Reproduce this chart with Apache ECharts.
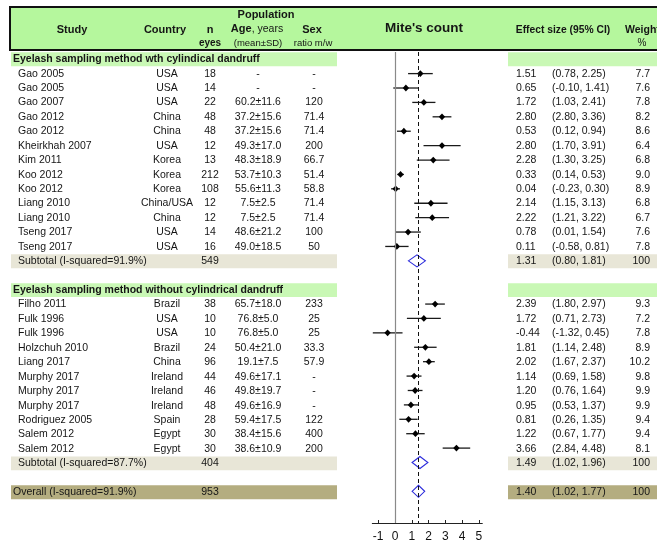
<!DOCTYPE html>
<html><head><meta charset="utf-8">
<script src="https://cdn.jsdelivr.net/npm/echarts@6/dist/echarts.min.js"></script>
<style>html,body{margin:0;padding:0;background:#fff}#c{width:657px;height:543px}</style>
</head><body><div id="c"></div>
<script>
// ---------- data ----------
const sectionTitles = ['Eyelash sampling method wth cylindical dandruff', 'Eyelash sampling method without cylindrical dandruff'];

const g1Studies = ['Gao 2005','Gao 2005','Gao 2007','Gao 2012','Gao 2012','Kheirkhah 2007','Kim 2011','Koo 2012','Koo 2012','Liang 2010','Liang 2010','Tseng 2017','Tseng 2017'];
const g1Countries = ['USA','USA','USA','China','China','USA','Korea','Korea','Korea','China/USA','China','USA','USA'];
const g1N = [18,14,22,48,48,12,13,212,108,12,12,14,16];
const g1Age = ['-','-','60.2±11.6','37.2±15.6','37.2±15.6','49.3±17.0','48.3±18.9','53.7±10.3','55.6±11.3','7.5±2.5','7.5±2.5','48.6±21.2','49.0±18.5'];
const g1Sex = ['-','-','120','71.4','71.4','200','66.7','51.4','58.8','71.4','71.4','100','50'];
const g1ES = [1.51,0.65,1.72,2.80,0.53,2.80,2.28,0.33,0.04,2.14,2.22,0.78,0.11];
const g1Lo = [0.78,-0.10,1.03,2.24,0.12,1.70,1.30,0.14,-0.23,1.15,1.21,0.01,-0.58];
const g1Hi = [2.25,1.41,2.41,3.36,0.94,3.91,3.25,0.53,0.30,3.13,3.22,1.54,0.81];
const g1CI = ['(0.78, 2.25)','(-0.10, 1.41)','(1.03, 2.41)','(2.80, 3.36)','(0.12, 0.94)','(1.70, 3.91)','(1.30, 3.25)','(0.14, 0.53)','(-0.23, 0.30)','(1.15, 3.13)','(1.21, 3.22)','(0.01, 1.54)','(-0.58, 0.81)'];
const g1Weight = ['7.7','7.6','7.8','8.2','8.6','6.4','6.8','9.0','8.9','6.8','6.7','7.6','7.8'];

const g2Studies = ['Filho 2011','Fulk 1996','Fulk 1996','Holzchuh 2010','Liang 2017','Murphy 2017','Murphy 2017','Murphy 2017','Rodriguez 2005','Salem 2012','Salem 2012'];
const g2Countries = ['Brazil','USA','USA','Brazil','China','Ireland','Ireland','Ireland','Spain','Egypt','Egypt'];
const g2N = [38,10,10,24,96,44,46,48,28,30,30];
const g2Age = ['65.7±18.0','76.8±5.0','76.8±5.0','50.4±21.0','19.1±7.5','49.6±17.1','49.8±19.7','49.6±16.9','59.4±17.5','38.4±15.6','38.6±10.9'];
const g2Sex = ['233','25','25','33.3','57.9','-','-','-','122','400','200'];
const g2ES = [2.39,1.72,-0.44,1.81,2.02,1.14,1.20,0.95,0.81,1.22,3.66];
const g2Lo = [1.80,0.71,-1.32,1.14,1.67,0.69,0.76,0.53,0.26,0.67,2.84];
const g2Hi = [2.97,2.73,0.45,2.48,2.37,1.58,1.64,1.37,1.35,1.77,4.48];
const g2CI = ['(1.80, 2.97)','(0.71, 2.73)','(-1.32, 0.45)','(1.14, 2.48)','(1.67, 2.37)','(0.69, 1.58)','(0.76, 1.64)','(0.53, 1.37)','(0.26, 1.35)','(0.67, 1.77)','(2.84, 4.48)'];
const g2Weight = ['9.3','7.2','7.8','8.9','10.2','9.8','9.9','9.9','9.4','9.4','8.1'];

const pooledLabels = ['Subtotal (I-squared=91.9%)','Subtotal (I-squared=87.7%)','Overall (I-squared=91.9%)'];
const pooledN = [549,404,953];
const pooledES = [1.31,1.49,1.40];
const pooledLo = [0.80,1.02,1.02];
const pooledHi = [1.81,1.96,1.77];
const pooledWeight = ['100','100','100'];

const axisTicks = [-1,0,1,2,3,4,5];

// ---------- build rows ----------
const groups = [
  {studies:g1Studies,countries:g1Countries,n:g1N,age:g1Age,sex:g1Sex,es:g1ES,lo:g1Lo,hi:g1Hi,ci:g1CI,w:g1Weight},
  {studies:g2Studies,countries:g2Countries,n:g2N,age:g2Age,sex:g2Sex,es:g2ES,lo:g2Lo,hi:g2Hi,ci:g2CI,w:g2Weight}
];
const fmt = v => v.toFixed(2);
const rows = [];
let r = 0;
groups.forEach((g, gi) => {
  rows.push({type:'section', row:r++, text:sectionTitles[gi]});
  g.studies.forEach((s, i) => {
    rows.push({type:'study', row:r++, study:s, country:g.countries[i], n:g.n[i], age:g.age[i], sex:g.sex[i],
      es:g.es[i], lo:g.lo[i], hi:g.hi[i], esText:fmt(g.es[i]), ci:g.ci[i], w:g.w[i]});
  });
  rows.push({type:'subtotal', row:r++, study:pooledLabels[gi], n:pooledN[gi], es:pooledES[gi], lo:pooledLo[gi], hi:pooledHi[gi],
    esText:fmt(pooledES[gi]), ci:'(' + fmt(pooledLo[gi]) + ', ' + fmt(pooledHi[gi]) + ')', w:pooledWeight[gi]});
  r++; // blank row
});
rows.push({type:'overall', row:r++, study:pooledLabels[2], n:pooledN[2], es:pooledES[2], lo:pooledLo[2], hi:pooledHi[2],
  esText:fmt(pooledES[2]), ci:'(' + fmt(pooledLo[2]) + ', ' + fmt(pooledHi[2]) + ')', w:pooledWeight[2]});

const forestRows = rows.filter(x => x.type !== 'section');

// ---------- styling ----------
const FF = '"Liberation Sans", Arial, sans-serif';
const COL = {study:18, section:13, country:167, n:210, age:258, sex:314, es:516, ci:552, w:650};
const BAND = {
  section:{fill:'#c9f8b5'},
  subtotal:{fill:'#e8e6d7'},
  overall:{fill:'#b4ad80'}
};
function txt(x, y, text, o) {
  o = o || {};
  const al = o.align || 'left';
  return {type:'text', x:x, y:y, style:{text:String(text), fill:'#151515',
    font:(o.weight||'normal') + ' ' + (o.size||10.5) + 'px ' + FF,
    align:al, textAlign:al, verticalAlign:'middle', textVerticalAlign:'middle'}};
}

const chart = echarts.init(document.getElementById('c'), null, {renderer:'canvas'});

const headerY1 = 15, headerY2 = 30, headerY3 = 43;
function htxt(x, y, text, o) {
  const t = txt(x, y, text, o);
  t.z = 10;
  return t;
}
const graphic = [
  {type:'rect', shape:{x:10, y:7, width:660, height:43}, style:{fill:'#b5f79d', stroke:'#111', lineWidth:2}, z:5},
  htxt(72, headerY2, 'Study', {weight:'bold', size:11, align:'center'}),
  htxt(165, headerY2, 'Country', {weight:'bold', size:11, align:'center'}),
  htxt(210, headerY2, 'n', {weight:'bold', size:11, align:'center'}),
  htxt(210, headerY3, 'eyes', {weight:'bold', size:10, align:'center'}),
  htxt(266, headerY1, 'Population', {weight:'bold', size:11, align:'center'}),
  {type:'text', x:257, y:29, z:10, style:{text:'{b|Age}, years', rich:{b:{fontWeight:'bold', fontSize:11, fontFamily:FF, fill:'#151515'}},
    fill:'#151515', font:'normal 10.5px ' + FF, align:'center', textAlign:'center', verticalAlign:'middle', textVerticalAlign:'middle'}},
  htxt(258, headerY3, '(mean±SD)', {size:9.5, align:'center'}),
  htxt(312, headerY2, 'Sex', {weight:'bold', size:11, align:'center'}),
  htxt(313, headerY3, 'ratio m/w', {size:9.5, align:'center'}),
  htxt(424, 28, "Mite's count", {weight:'bold', size:13.5, align:'center'}),
  htxt(563, headerY2, 'Effect size (95% CI)', {weight:'bold', size:10.3, align:'center'}),
  htxt(625, headerY2, 'Weight', {weight:'bold', size:10.5, align:'left'}),
  htxt(642, headerY3, '%', {size:10, align:'center'})
];

const option = {
  animation:false,
  backgroundColor:'#fff',
  graphic:graphic,
  grid:[
    {left:0, width:657, top:52, height:472},
    {left:372.3, width:110, top:52, height:472}
  ],
  xAxis:[
    {gridIndex:0, type:'value', min:0, max:657, show:false},
    {gridIndex:1, type:'value', min:-1.35, max:5.2, position:'bottom',
      splitLine:{show:false},
      axisLine:{show:true, onZero:false, lineStyle:{color:'#222', width:1}},
      axisTick:{show:true, inside:true, length:3, customValues:axisTicks, lineStyle:{color:'#222'}},
      axisLabel:{show:true, customValues:axisTicks, color:'#111', fontSize:12, fontFamily:FF, margin:8, hideOverlap:false}
    }
  ],
  yAxis:[
    {gridIndex:0, type:'value', min:-0.5, max:32.2, inverse:true, show:false},
    {gridIndex:1, type:'value', min:-0.5, max:32.2, inverse:true, show:false}
  ],
  series:[
    { // bands
      type:'custom', xAxisIndex:0, yAxisIndex:0, z:1, silent:true,
      data: rows.filter(x => BAND[x.type]).map(x => [0, x.row]),
      encode:{x:0, y:1},
      renderItem(params, api) {
        const rw = rows.filter(x => BAND[x.type])[params.dataIndex];
        const b = BAND[rw.type];
        const children = [];
        [[11,337],[508,657]].forEach(seg => {
          const p1 = api.coord([seg[0], rw.row - 0.48]);
          const p2 = api.coord([seg[1], rw.row + 0.48]);
          children.push({type:'rect', shape:{x:p1[0], y:p1[1], width:p2[0]-p1[0], height:p2[1]-p1[1]}, style:{fill:b.fill}});
        });
        return {type:'group', children};
      }
    },
    { // table texts
      type:'custom', xAxisIndex:0, yAxisIndex:0, z:3, silent:true,
      data: rows.map(x => [0, x.row]),
      encode:{x:0, y:1},
      renderItem(params, api) {
        const rw = rows[params.dataIndex];
        const y = api.coord([0, rw.row])[1];
        const X = k => api.coord([COL[k], rw.row])[0];
        const ch = [];
        if (rw.type === 'section') {
          ch.push(txt(X('section'), y, rw.text, {weight:'bold', size:10.5}));
        } else {
          ch.push(txt(rw.type === 'overall' ? X('section') : X('study'), y, rw.study, {size:10.5}));
          if (rw.country) ch.push(txt(X('country'), y, rw.country, {align:'center'}));
          ch.push(txt(X('n'), y, rw.n, {align:'center'}));
          if (rw.age) ch.push(txt(X('age'), y, rw.age, {align:'center'}));
          if (rw.sex) ch.push(txt(X('sex'), y, rw.sex, {align:'center'}));
          ch.push(txt(X('es'), y, rw.esText));
          ch.push(txt(X('ci'), y, rw.ci));
          ch.push(txt(X('w'), y, rw.w, {align:'right'}));
        }
        return {type:'group', children:ch};
      }
    },
    { // forest marks
      type:'custom', xAxisIndex:1, yAxisIndex:1, z:4, silent:true,
      data: forestRows.map(x => [x.es, x.row]),
      encode:{x:0, y:1},
      clip:false,
      renderItem(params, api) {
        const rw = forestRows[params.dataIndex];
        const pL = api.coord([rw.lo, rw.row]);
        const pC = api.coord([rw.es, rw.row]);
        const pH = api.coord([rw.hi, rw.row]);
        if (rw.type !== 'study') {
          return {type:'polygon', shape:{points:[[pL[0],pL[1]],[pC[0],pC[1]-6],[pH[0],pH[1]],[pC[0],pC[1]+6]]},
            style:{fill:'rgba(255,255,255,0)', stroke:'#2b2bdc', lineWidth:1.1}};
        }
        return {type:'group', children:[
          {type:'line', shape:{x1:pL[0], y1:pL[1], x2:pH[0], y2:pH[1]}, style:{stroke:'#1a1a1a', lineWidth:1.3}},
          {type:'polygon', shape:{points:[[pC[0]-3.2,pC[1]],[pC[0],pC[1]-3.4],[pC[0]+3.2,pC[1]],[pC[0],pC[1]+3.4]]}, style:{fill:'#000'}}
        ]};
      },
      markLine:{
        silent:true, symbol:['none','none'], label:{show:false},
        data:[
          {xAxis:0, lineStyle:{color:'#8a8a8a', type:'solid', width:1.2}},
          {xAxis:pooledES[2], lineStyle:{color:'#111', type:[4,3], width:1}}
        ]
      }
    }
  ]
};
chart.setOption(option);
</script></body></html>
